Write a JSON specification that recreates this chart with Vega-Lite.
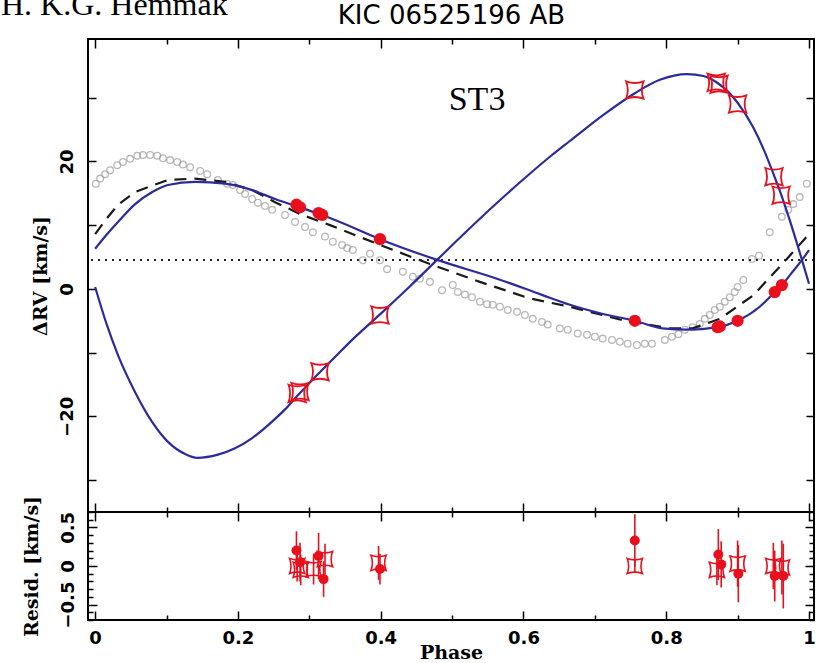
{
  "$schema": "https://vega.github.io/schema/vega-lite/v6.json",
  "padding": {"left": 0, "top": -11, "right": 2, "bottom": 0},
  "background": "white",
  "title": {"text": "H. K.G. Hemmak", "anchor": "start", "frame": "bounds", "font": "Liberation Serif", "fontSize": 32, "fontWeight": "normal", "color": "black", "offset": -21, "dx": -20},
  "spacing": 0,
  "bounds": "flush",
  "config": {
    "view": {"stroke": "black", "strokeWidth": 2},
    "axis": {"grid": false, "domain": false, "tickColor": "black", "tickWidth": 1.5, "labelColor": "black", "titleColor": "black", "labelFont": "DejaVu Sans", "labelFontWeight": "bold", "labelFontSize": 18, "titleFont": "DejaVu Serif", "titleFontWeight": "bold", "titleFontSize": 19, "labelOverlap": false, "labelFlush": false, "labelBound": false}
  },
  "datasets": {
    "grey": [
      {"phase":0.001,"rv":16.5},{"phase":0.007,"rv":17.3},{"phase":0.014,"rv":18.0},{"phase":0.021,"rv":18.6},{"phase":0.031,"rv":19.4},{"phase":0.039,"rv":19.9},{"phase":0.049,"rv":20.4},{"phase":0.059,"rv":20.9},{"phase":0.067,"rv":21.0},{"phase":0.077,"rv":21.0},{"phase":0.087,"rv":20.9},{"phase":0.095,"rv":20.5},{"phase":0.105,"rv":20.2},{"phase":0.115,"rv":19.9},{"phase":0.123,"rv":19.5},{"phase":0.133,"rv":19.1},{"phase":0.147,"rv":18.5},{"phase":0.157,"rv":18.0},{"phase":0.172,"rv":17.1},{"phase":0.185,"rv":16.5},{"phase":0.193,"rv":16.3},{"phase":0.203,"rv":15.5},{"phase":0.21,"rv":14.9},{"phase":0.22,"rv":14.1},{"phase":0.228,"rv":13.5},{"phase":0.238,"rv":13.0},{"phase":0.248,"rv":12.4},{"phase":0.266,"rv":11.6},{"phase":0.28,"rv":10.5},{"phase":0.294,"rv":9.7},{"phase":0.305,"rv":8.9},{"phase":0.322,"rv":8.2},{"phase":0.333,"rv":7.4},{"phase":0.346,"rv":6.9},{"phase":0.353,"rv":6.4},{"phase":0.361,"rv":6.1},{"phase":0.375,"rv":4.5},{"phase":0.385,"rv":5.5},{"phase":0.399,"rv":4.5},{"phase":0.409,"rv":3.1},{"phase":0.431,"rv":2.7},{"phase":0.445,"rv":1.9},{"phase":0.455,"rv":1.6},{"phase":0.469,"rv":1.1},{"phase":0.486,"rv":-0.2},{"phase":0.501,"rv":0.6},{"phase":0.508,"rv":-0.5},{"phase":0.518,"rv":-0.9},{"phase":0.528,"rv":-1.3},{"phase":0.539,"rv":-2.0},{"phase":0.549,"rv":-2.4},{"phase":0.557,"rv":-2.5},{"phase":0.567,"rv":-2.8},{"phase":0.578,"rv":-3.3},{"phase":0.591,"rv":-3.6},{"phase":0.602,"rv":-4.1},{"phase":0.613,"rv":-4.7},{"phase":0.626,"rv":-5.2},{"phase":0.634,"rv":-5.6},{"phase":0.651,"rv":-6.2},{"phase":0.662,"rv":-6.4},{"phase":0.676,"rv":-7.0},{"phase":0.689,"rv":-7.2},{"phase":0.7,"rv":-7.5},{"phase":0.711,"rv":-7.8},{"phase":0.724,"rv":-8.0},{"phase":0.735,"rv":-8.3},{"phase":0.746,"rv":-8.6},{"phase":0.759,"rv":-8.8},{"phase":0.77,"rv":-8.6},{"phase":0.78,"rv":-8.6},{"phase":0.798,"rv":-8.0},{"phase":0.808,"rv":-7.5},{"phase":0.817,"rv":-7.1},{"phase":0.826,"rv":-6.4},{"phase":0.837,"rv":-6.0},{"phase":0.847,"rv":-5.5},{"phase":0.854,"rv":-4.7},{"phase":0.861,"rv":-4.1},{"phase":0.868,"rv":-3.3},{"phase":0.875,"rv":-2.8},{"phase":0.882,"rv":-2.0},{"phase":0.889,"rv":-1.3},{"phase":0.896,"rv":-0.5},{"phase":0.9,"rv":0.3},{"phase":0.908,"rv":1.4},{"phase":0.92,"rv":4.7},{"phase":0.93,"rv":5.2},{"phase":0.945,"rv":8.9},{"phase":0.962,"rv":11.3},{"phase":0.971,"rv":12.4},{"phase":0.978,"rv":13.3},{"phase":0.987,"rv":14.4},{"phase":0.997,"rv":16.5}
    ],
    "dashed": [
      {"phase":0.0,"rv":8.6},{"phase":0.016,"rv":11.0},{"phase":0.032,"rv":13.2},{"phase":0.056,"rv":15.2},{"phase":0.102,"rv":17.1},{"phase":0.14,"rv":17.3},{"phase":0.182,"rv":16.8},{"phase":0.22,"rv":15.5},{"phase":0.252,"rv":13.6},{"phase":0.29,"rv":11.6},{"phase":0.329,"rv":10.0},{"phase":0.399,"rv":6.9},{"phase":0.469,"rv":3.9},{"phase":0.539,"rv":1.1},{"phase":0.609,"rv":-1.5},{"phase":0.665,"rv":-2.8},{"phase":0.735,"rv":-4.8},{"phase":0.805,"rv":-6.2},{"phase":0.837,"rv":-6.2},{"phase":0.875,"rv":-4.7},{"phase":0.922,"rv":-1.0},{"phase":0.969,"rv":4.7},{"phase":1.0,"rv":8.6}
    ],
    "prim": [
      {"phase":0.0,"rv":6.3},{"phase":0.016,"rv":8.5},{"phase":0.032,"rv":10.5},{"phase":0.056,"rv":13.3},{"phase":0.08,"rv":15.2},{"phase":0.102,"rv":16.3},{"phase":0.14,"rv":16.8},{"phase":0.182,"rv":16.5},{"phase":0.22,"rv":15.5},{"phase":0.252,"rv":14.1},{"phase":0.284,"rv":12.9},{"phase":0.315,"rv":11.7},{"phase":0.336,"rv":10.8},{"phase":0.399,"rv":7.8},{"phase":0.479,"rv":4.55},{"phase":0.563,"rv":1.6},{"phase":0.625,"rv":-0.9},{"phase":0.665,"rv":-2.5},{"phase":0.71,"rv":-3.9},{"phase":0.756,"rv":-5.0},{"phase":0.795,"rv":-6.2},{"phase":0.829,"rv":-6.4},{"phase":0.872,"rv":-6.0},{"phase":0.9,"rv":-5.0},{"phase":0.931,"rv":-2.8},{"phase":0.952,"rv":-0.5},{"phase":0.962,"rv":0.6},{"phase":0.975,"rv":2.4},{"phase":0.99,"rv":4.5},{"phase":1.0,"rv":6.1}
    ],
    "sec": [
      {"phase":0.0,"rv":0.3},{"phase":0.016,"rv":-5.5},{"phase":0.032,"rv":-10.4},{"phase":0.056,"rv":-16.2},{"phase":0.08,"rv":-20.9},{"phase":0.102,"rv":-24.0},{"phase":0.126,"rv":-25.9},{"phase":0.143,"rv":-26.5},{"phase":0.172,"rv":-26.0},{"phase":0.196,"rv":-25.0},{"phase":0.22,"rv":-23.4},{"phase":0.242,"rv":-21.4},{"phase":0.266,"rv":-18.9},{"phase":0.284,"rv":-16.7},{"phase":0.312,"rv":-13.4},{"phase":0.336,"rv":-10.7},{"phase":0.36,"rv":-8.0},{"phase":0.399,"rv":-4.0},{"phase":0.44,"rv":0.3},{"phase":0.479,"rv":4.55},{"phase":0.52,"rv":9.0},{"phase":0.56,"rv":13.2},{"phase":0.598,"rv":17.0},{"phase":0.64,"rv":21.0},{"phase":0.665,"rv":23.2},{"phase":0.712,"rv":27.3},{"phase":0.756,"rv":30.7},{"phase":0.791,"rv":32.8},{"phase":0.829,"rv":33.7},{"phase":0.852,"rv":33.4},{"phase":0.872,"rv":32.3},{"phase":0.9,"rv":29.2},{"phase":0.922,"rv":25.3},{"phase":0.936,"rv":22.0},{"phase":0.951,"rv":17.8},{"phase":0.961,"rv":14.8},{"phase":0.973,"rv":10.8},{"phase":0.99,"rv":4.6},{"phase":1.0,"rv":0.8}
    ],
    "circ": [
      {"phase":0.282,"rv":13.2},{"phase":0.287,"rv":12.8},{"phase":0.313,"rv":11.9},{"phase":0.318,"rv":11.6},{"phase":0.399,"rv":7.8},{"phase":0.756,"rv":-5.0},{"phase":0.872,"rv":-6.0},{"phase":0.875,"rv":-5.9},{"phase":0.9,"rv":-5.0},{"phase":0.952,"rv":-0.5},{"phase":0.962,"rv":0.6}
    ],
    "star": [
      {"phase":0.283,"rv":-16.4},{"phase":0.287,"rv":-16.1},{"phase":0.315,"rv":-13.0},{"phase":0.399,"rv":-4.1},{"phase":0.756,"rv":31.2},{"phase":0.87,"rv":32.4},{"phase":0.874,"rv":32.1},{"phase":0.9,"rv":29.0},{"phase":0.951,"rv":17.6},{"phase":0.961,"rv":14.7}
    ],
    "rcirc": [
      {"phase":0.282,"res":0.2,"err":0.25},{"phase":0.287,"res":0.05,"err":0.25},{"phase":0.313,"res":0.13,"err":0.3},{"phase":0.32,"res":-0.17,"err":0.23},{"phase":0.399,"res":-0.04,"err":0.2},{"phase":0.756,"res":0.33,"err":0.34},{"phase":0.873,"res":0.15,"err":0.33},{"phase":0.877,"res":0.02,"err":0.3},{"phase":0.901,"res":-0.1,"err":0.37},{"phase":0.952,"res":-0.13,"err":0.33},{"phase":0.964,"res":-0.13,"err":0.42}
    ],
    "rstar": [
      {"phase":0.283,"res":0.0,"err":0.2},{"phase":0.288,"res":-0.05,"err":0.2},{"phase":0.306,"res":-0.04,"err":0.2},{"phase":0.322,"res":0.09,"err":0.2},{"phase":0.397,"res":0.04,"err":0.22},{"phase":0.756,"res":0.0,"err":0.08},{"phase":0.871,"res":-0.05,"err":0.2},{"phase":0.9,"res":0.03,"err":0.3},{"phase":0.95,"res":0.0,"err":0.3},{"phase":0.962,"res":-0.02,"err":0.35}
    ]
  },
  "vconcat": [
    {
      "width": 726,
      "height": 473,
      "layer": [
        {
          "data": {"name": "grey"},
          "mark": {"type": "point", "shape": "circle", "filled": false, "stroke": "#9c9c9c", "strokeWidth": 1.3, "size": 45},
          "encoding": {
            "x": {"field": "phase", "type": "quantitative", "scale": {"domain": [-0.01, 1.007], "nice": false, "zero": false},
              "axis": {"orient": "bottom", "values": [0,0.1,0.2,0.3,0.4,0.5,0.6,0.7,0.8,0.9,1], "labels": false, "title": null,
                "tickSize": {"condition": {"test": "abs(datum.value*5-round(datum.value*5))<0.001", "value": -9}, "value": -5}}},
            "y": {"field": "rv", "type": "quantitative", "scale": {"domain": [-35, 39.2], "nice": false, "zero": false},
              "axis": {"orient": "left", "values": [-30,-20,-10,0,10,20,30], "labelExpr": "abs(datum.value % 20)<0.001 ? datum.label : ''", "labelAngle": -90, "labelAlign": "center", "labelBaseline": "bottom", "tickSize": -8, "labelPadding": 20, "title": "ΔRV [km/s]", "titlePadding": 8}}
          }
        },
        {
          "data": {"name": "dashed"},
          "mark": {"type": "line", "color": "#1a1a1a", "strokeDash": [12, 8], "strokeWidth": 2.2},
          "encoding": {
            "x": {"field": "phase", "type": "quantitative",
              "axis": {"orient": "top", "values": [0,0.1,0.2,0.3,0.4,0.5,0.6,0.7,0.8,0.9,1], "labels": false, "title": "KIC 06525196 AB", "titleFont": "DejaVu Sans", "titleFontWeight": "normal", "titleFontSize": 26, "titlePadding": 10,
                "tickSize": {"condition": {"test": "abs(datum.value*5-round(datum.value*5))<0.001", "value": -9}, "value": -5}}},
            "y": {"field": "rv", "type": "quantitative",
              "axis": {"orient": "right", "values": [-30,-20,-10,0,10,20,30], "labels": false, "title": null, "tickSize": -8}}
          }
        },
        {
          "data": {"values": [{}]},
          "mark": {"type": "rule", "strokeDash": [2, 5], "strokeWidth": 2, "color": "#222222"},
          "encoding": {"y": {"datum": 4.55, "type": "quantitative", "axis": null}}
        },
        {
          "data": {"name": "prim"},
          "mark": {"type": "line", "color": "#2b2b9c", "strokeWidth": 2.2, "interpolate": "monotone"},
          "encoding": {"x": {"field": "phase", "type": "quantitative", "axis": null}, "y": {"field": "rv", "type": "quantitative", "axis": null}}
        },
        {
          "data": {"name": "sec"},
          "mark": {"type": "line", "color": "#2b2b9c", "strokeWidth": 2.2, "interpolate": "monotone"},
          "encoding": {"x": {"field": "phase", "type": "quantitative", "axis": null}, "y": {"field": "rv", "type": "quantitative", "axis": null}}
        },
        {
          "data": {"name": "circ"},
          "mark": {"type": "point", "shape": "circle", "filled": true, "color": "#e8101c", "opacity": 1, "size": 150},
          "encoding": {"x": {"field": "phase", "type": "quantitative", "axis": null}, "y": {"field": "rv", "type": "quantitative", "axis": null}}
        },
        {
          "data": {"name": "star"},
          "mark": {"type": "point", "shape": "M-1,-1Q0,-0.62,1,-1Q0.62,0,1,1Q0,0.62,-1,1Q-0.62,0,-1,-1Z", "filled": false, "stroke": "#e8101c", "strokeWidth": 1.8, "opacity": 1, "size": 300},
          "encoding": {"x": {"field": "phase", "type": "quantitative", "axis": null}, "y": {"field": "rv", "type": "quantitative", "axis": null}}
        },
        {
          "data": {"values": [{"label": "ST3"}]},
          "mark": {"type": "text", "font": "Liberation Serif", "fontSize": 34, "color": "black", "align": "center", "baseline": "middle"},
          "encoding": {"x": {"datum": 0.535, "type": "quantitative", "axis": null}, "y": {"datum": 29.6, "type": "quantitative", "axis": null}, "text": {"field": "label"}}
        }
      ]
    },
    {
      "width": 726,
      "height": 108,
      "layer": [
        {
          "data": {"values": [{}]},
          "mark": {"type": "rule", "strokeDash": [2, 5], "strokeWidth": 2, "color": "#222222"},
          "encoding": {
            "x": {"datum": 0.5, "type": "quantitative", "scale": {"domain": [-0.01, 1.007], "nice": false, "zero": false},
              "axis": {"orient": "bottom", "values": [0,0.1,0.2,0.3,0.4,0.5,0.6,0.7,0.8,0.9,1], "labelExpr": "abs(datum.value*5-round(datum.value*5))<0.001 ? format(datum.value, '~g') : ''", "labelPadding": 18, "title": "Phase", "titlePadding": -8,
                "tickSize": {"condition": {"test": "abs(datum.value*5-round(datum.value*5))<0.001", "value": -9}, "value": -5}}},
            "y": {"datum": 0, "type": "quantitative", "scale": {"domain": [-0.7, 0.7], "nice": false, "zero": false},
              "axis": {"orient": "left", "values": [-0.7,-0.6,-0.5,-0.4,-0.3,-0.2,-0.1,0,0.1,0.2,0.3,0.4,0.5,0.6,0.7], "labelExpr": "abs(datum.value*2-round(datum.value*2))<0.001 ? format(datum.value, '~g') : ''", "labelAngle": -90, "labelAlign": "center", "labelBaseline": "bottom", "labelPadding": 20, "title": "Resid. [km/s]", "titlePadding": 14,
                "tickSize": {"condition": {"test": "abs(datum.value*2-round(datum.value*2))<0.001", "value": -9}, "value": -5}}}
          }
        },
        {
          "data": {"name": "rstar"},
          "mark": {"type": "errorbar", "color": "#e8101c", "thickness": 1.6},
          "encoding": {
            "x": {"field": "phase", "type": "quantitative",
              "axis": {"orient": "top", "values": [0,0.1,0.2,0.3,0.4,0.5,0.6,0.7,0.8,0.9,1], "labels": false, "title": null,
                "tickSize": {"condition": {"test": "abs(datum.value*5-round(datum.value*5))<0.001", "value": -9}, "value": -5}}},
            "y": {"field": "res", "type": "quantitative",
              "axis": {"orient": "right", "values": [-0.7,-0.6,-0.5,-0.4,-0.3,-0.2,-0.1,0,0.1,0.2,0.3,0.4,0.5,0.6,0.7], "labels": false, "title": null,
                "tickSize": {"condition": {"test": "abs(datum.value*2-round(datum.value*2))<0.001", "value": -9}, "value": -5}}},
            "yError": {"field": "err"}
          }
        },
        {
          "data": {"name": "rcirc"},
          "mark": {"type": "errorbar", "color": "#e8101c", "thickness": 1.6},
          "encoding": {
            "x": {"field": "phase", "type": "quantitative", "axis": null},
            "y": {"field": "res", "type": "quantitative", "axis": null},
            "yError": {"field": "err"}
          }
        },
        {
          "data": {"name": "rstar"},
          "mark": {"type": "point", "shape": "M-1,-1Q0,-0.62,1,-1Q0.62,0,1,1Q0,0.62,-1,1Q-0.62,0,-1,-1Z", "filled": false, "stroke": "#e8101c", "strokeWidth": 1.6, "opacity": 1, "size": 230},
          "encoding": {"x": {"field": "phase", "type": "quantitative", "axis": null}, "y": {"field": "res", "type": "quantitative", "axis": null}}
        },
        {
          "data": {"name": "rcirc"},
          "mark": {"type": "point", "shape": "circle", "filled": true, "color": "#e8101c", "opacity": 1, "size": 100},
          "encoding": {"x": {"field": "phase", "type": "quantitative", "axis": null}, "y": {"field": "res", "type": "quantitative", "axis": null}}
        }
      ]
    }
  ]
}
